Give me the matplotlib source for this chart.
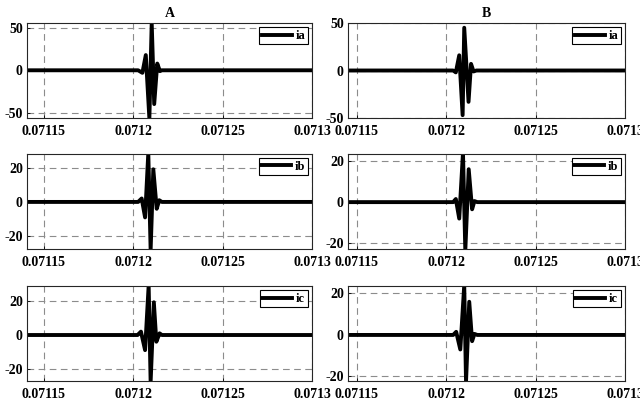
import matplotlib
matplotlib.use("Agg")
import matplotlib.pyplot as plt
import numpy as np

plt.rcParams['font.family'] = ['Liberation Serif', 'DejaVu Serif']
plt.rcParams['font.weight'] = 'bold'
plt.rcParams['axes.unicode_minus'] = False

# x axis
xticks = [0.07115, 0.0712, 0.07125, 0.0713]
xticklabels = ["0.07115", "0.0712", "0.07125", "0.0713"]

# column A (left): time points and currents
t_A_ia = [0.0711407, 0.0712028, 0.0712052, 0.0712071, 0.0712091, 0.0712104,
          0.0712118, 0.0712135, 0.0712150, 0.0712161, 0.0713]
A_ia = [0, 0, -3, 18, -57, 56, -40, 8, -1, 0, 0]

t_A_ib = [0.0711407, 0.0712028, 0.0712048, 0.0712067, 0.0712085, 0.0712098,
          0.0712113, 0.0712132, 0.0712146, 0.0712161, 0.0713]
A_ib = [0, 0, 2, -9, 28.5, -28, 19, -4, 1, 0, 0]

t_A_ic = [0.0711407, 0.0712025, 0.0712044, 0.0712067, 0.0712087, 0.0712098,
          0.0712116, 0.0712130, 0.0712148, 0.0712161, 0.0713]
A_ic = [0, 0, 2, -9, 29.5, -28, 19.5, -4, 1, 0, 0]

# column B (right)
t_B_ia = [0.0711451, 0.0712039, 0.0712054, 0.0712073, 0.0712092, 0.0712101,
          0.0712125, 0.0712139, 0.0712153, 0.0712169, 0.0713]
B_ia = [0, 0, -2, 16, -47, 45, -33, 7, -1, 0, 0]

t_B_ib = [0.0711451, 0.0712039, 0.0712054, 0.0712073, 0.0712094, 0.0712107,
          0.0712126, 0.0712145, 0.0712158, 0.0712174, 0.0713]
B_ib = [0, 0, 1.5, -8, 24, -23.5, 16, -3.5, 0.5, 0, 0]

t_B_ic = [0.0711451, 0.0712039, 0.0712056, 0.0712079, 0.0712101, 0.0712111,
          0.0712129, 0.0712145, 0.0712158, 0.0712174, 0.0713]
B_ic = [0, 0, 1.5, -7, 24, -22.5, 16, -3, 0.5, 0, 0]

panels = [
    # (t, y, label, ylim, yticks)
    [(t_A_ia, A_ia, "ia", (-56.5, 56), [-50, 0, 50]),
     (t_B_ia, B_ia, "ia", (-50, 50), [-50, 0, 50])],
    [(t_A_ib, A_ib, "ib", (-27.4, 27.9), [-20, 0, 20]),
     (t_B_ib, B_ib, "ib", (-22.8, 23.4), [-20, 0, 20])],
    [(t_A_ic, A_ic, "ic", (-27.4, 29.2), [-20, 0, 20]),
     (t_B_ic, B_ic, "ic", (-22.2, 23.6), [-20, 0, 20])],
]
col_titles = ["A", "B"]

W, H = 640, 403
fig = plt.figure(figsize=(W / 100, H / 100), dpi=100)

col_x = [(27, 312), (348, 625)]
row_y = [(23, 118), (154, 249), (286, 381)]

for r in range(3):
    for c in range(2):
        x0, x1 = col_x[c]
        y0, y1 = row_y[r]
        ax = fig.add_axes([x0 / W, 1 - y1 / H, (x1 - x0) / W, (y1 - y0) / H])
        t, y, lab, ylim, yt = panels[r][c]
        ax.plot(t, y, color='black', lw=2.8, label=lab)
        ax.set_xlim(t[0], 0.0713)
        ax.set_ylim(*ylim)
        ax.set_xticks(xticks)
        ax.set_xticklabels(xticklabels)
        ax.set_yticks(yt)
        ax.grid(True, color='#8c8c8c', linestyle=(0, (6, 4)), linewidth=0.8)
        ax.tick_params(direction='in', length=2, width=0.6, labelsize=10, pad=3)
        ax.tick_params(axis='x', pad=5)
        for lbl in ax.get_xticklabels() + ax.get_yticklabels():
            lbl.set_fontweight('bold')
        for s in ax.spines.values():
            s.set_linewidth(0.8)
            s.set_color('#262626')
        leg = ax.legend(loc='upper right', fancybox=False, framealpha=1,
                        edgecolor='black', fontsize=9, handlelength=2.4,
                        handletextpad=0.3, borderpad=0.2, borderaxespad=0.35)
        leg.get_frame().set_linewidth(0.8)
        for txt in leg.get_texts():
            txt.set_fontweight('bold')
        if r == 0:
            ax.set_title(col_titles[c], fontsize=10, fontweight='bold', pad=4)

fig.savefig("out.png", dpi=100)
